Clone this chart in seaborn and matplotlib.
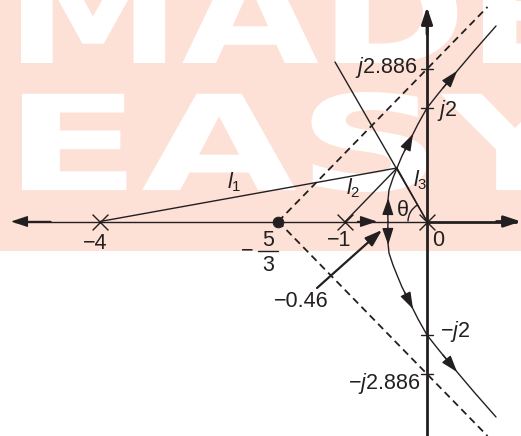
import numpy as np
import matplotlib
matplotlib.use("Agg")
import matplotlib.pyplot as plt
import seaborn as sns
from matplotlib.textpath import TextPath
from matplotlib.patches import PathPatch, Arc
from matplotlib.font_manager import FontProperties
from matplotlib.transforms import Affine2D

# ---------------- data (diagram units: sigma along real axis, j-axis scaled so j2 -> 2) ----
poles = [-4.0, -1.0, 0.0]
pole_labels = ["\u22124", "\u22121", "0"]
centroid = -1.82
breakaway_label = "\u22120.46"
branch_x = [-0.477, -0.483, -0.465, -0.416, -0.367, -0.306, -0.208, -0.110, 0.0, 0.135, 0.306, 0.575, 0.844]
branch_y = [0.0, 0.291, 0.555, 0.767, 0.943, 1.154, 1.436, 1.718, 2.0, 2.247, 2.546, 3.004, 3.445]
arrow_y = [0.414, 1.542, 2.652]
asym_end = (0.74, 3.78)
test_point = (-0.367, 0.943)
l3_ext = (-1.125, 2.81)
tick_vals = [2.0, 2.687, -2.0, -2.696]
tick_labels = ["$j$2", "$j$2.886", "\u2212$j$2", "\u2212$j$2.886"]
line_labels = ["$l_1$", "$l_2$", "$l_3$"]

W, H = 521, 436
PXX, PXY, X0, Y0 = 81.75, 56.75, 427, 221.5
INK = "#231f20"
PINK = "#fde1d6"

sns.set_theme(style="white")
plt.rcParams["font.family"] = ["Liberation Sans", "DejaVu Sans"]
plt.rcParams["mathtext.fontset"] = "custom"
plt.rcParams["mathtext.rm"] = "Liberation Sans"
plt.rcParams["mathtext.it"] = "Liberation Sans:italic"


def to_data(px, py):
    return (px - X0) / PXX, (Y0 - py) / PXY


fig = plt.figure(figsize=(W / 100, H / 100), dpi=100)
ax = fig.add_axes([0, 0, 1, 1])
ax.set_xlim(-X0 / PXX, (W - X0) / PXX)
ax.set_ylim((Y0 - H) / PXY, Y0 / PXY)
ax.axis("off")

# ---------------- watermark band ----------------
ax.axhspan(to_data(0, 251)[1], Y0 / PXY, color=PINK, zorder=0.1, lw=0)


def word(text, x0, x1, top, bot):
    tp = TextPath((0, 0), text, size=100, prop=FontProperties(family="DejaVu Sans", weight="bold"))
    ext = tp.get_extents()
    sx = (x1 - x0) / ext.width
    sy = (bot - top) / ext.height
    tr = (Affine2D().translate(-ext.x0, -ext.y0).scale(sx, sy)
          .translate(x0, H - bot).scale(1 / W, 1 / H) + fig.transFigure)
    ax.add_patch(PathPatch(tp, transform=tr, facecolor="white", edgecolor="none", zorder=0.2))


word("MADE", 21, 575, -37, 63)
word("EASY", 22, 590, 92, 192)

# ---------------- axes ----------------
xl, xr = ax.get_xlim()
yb, yt = ax.get_ylim()
sns.lineplot(x=[to_data(11, 0)[0] + 0.05, 0.0], y=[0, 0], ax=ax, color=INK, lw=1.0, sort=False, estimator=None)
sns.lineplot(x=[0.0, xr - 0.06], y=[0, 0], ax=ax, color=INK, lw=2.0, sort=False, estimator=None)
sns.lineplot(x=[0, 0], y=[yb, 3.7], ax=ax, color=INK, lw=2.0, sort=False, estimator=None)


def arrow(tip, tail, lw=1.0, ms=17):
    ax.annotate("", xy=tip, xytext=tail,
                arrowprops=dict(arrowstyle="-|>,head_length=0.6,head_width=0.2",
                                color=INK, lw=lw, shrinkA=0, shrinkB=0, mutation_scale=ms),
                zorder=5)


arrow((xr, 0), (xr - 0.3, 0), lw=2.0)
arrow((0, to_data(0, 7)[1]), (0, 3.3), lw=2.0)
arrow((to_data(11, 0)[0], 0), (-4.6, 0))
arrow((to_data(377, 0)[0], 0), (-0.85, 0))

# ---------------- asymptotes ----------------
for s in (1, -1):
    sns.lineplot(x=[centroid, asym_end[0]], y=[0, s * asym_end[1]], ax=ax, color=INK, lw=1.3,
                 linestyle=(0, (4.0, 2.6)), sort=False, estimator=None)

# ---------------- root locus branches ----------------
bx = np.array(branch_x)
by = np.array(branch_y)
for s in (1, -1):
    sns.lineplot(x=bx, y=s * by, ax=ax, color=INK, lw=1.0, sort=False, estimator=None)
    for ya in arrow_y:
        tip = (np.interp(ya, by, bx), s * ya)
        tail = (np.interp(ya - 0.3, by, bx), s * (ya - 0.3))
        arrow(tip, tail)

# ---------------- construction lines ----------------
for p in poles:
    sns.lineplot(x=[p, test_point[0]], y=[0, test_point[1]], ax=ax, color=INK, lw=1.0,
                 sort=False, estimator=None)
sns.lineplot(x=[0, l3_ext[0]], y=[0, l3_ext[1]], ax=ax, color=INK, lw=1.0, sort=False, estimator=None)

ang = np.degrees(np.arctan2(test_point[1], test_point[0]))
ax.add_patch(Arc((0, 0), width=2 * 19 / PXX, height=2 * 19 / PXY, theta1=ang, theta2=180,
                 color=INK, lw=1.0, zorder=4))

# ---------------- poles and centroid ----------------
sns.scatterplot(x=poles, y=[0] * len(poles), ax=ax, marker="x", s=130, color=INK,
                linewidth=1.0, zorder=6)
sns.scatterplot(x=[centroid], y=[0], ax=ax, marker="o", s=60, color=INK, edgecolor=INK, zorder=6)

# ---------------- ticks on j-axis ----------------
for v in tick_vals:
    sns.lineplot(x=[-0.075, 0.075], y=[v, v], ax=ax, color=INK, lw=1.0, sort=False, estimator=None)

# ---------------- labels ----------------
fs = 15.5
kw = dict(color=INK, fontsize=fs, zorder=7)
for lab, (px, py) in zip(pole_labels, [(95, 243), (339, 240), (438, 240)]):
    ax.text(*to_data(px, py), lab, ha="center", va="center", **kw)
# fraction -5/3
ax.text(*to_data(247, 251), "\u2212", ha="center", va="center", **kw)
ax.text(*to_data(268, 240), "5", ha="center", va="center", **kw)
ax.text(*to_data(268, 265), "3", ha="center", va="center", **kw)
fx0, fy = to_data(258, 251)
fx1, _ = to_data(278, 251)
ax.plot([fx0, fx1], [fy, fy], color=INK, lw=1.0, zorder=7)

ax.text(*to_data(417, 67), tick_labels[1], ha="right", va="center", **kw)
ax.text(*to_data(437, 110), tick_labels[0], ha="left", va="center", **kw)
ax.text(*to_data(440, 331), tick_labels[2], ha="left", va="center", **kw)
ax.text(*to_data(420, 383), tick_labels[3], ha="right", va="center", **kw)
ax.text(*to_data(301, 301), breakaway_label, ha="center", va="center", **kw)
for lab, (px, py) in zip(line_labels, [(234, 182), (353, 188), (420, 180)]):
    ax.text(*to_data(px, py), lab, ha="center", va="center", **kw)
ax.text(*to_data(403, 210), "\u03b8", ha="center", va="center", **kw)

# -0.46 pointer
arrow(to_data(382, 230), to_data(317, 288), lw=1.6, ms=17)

fig.savefig("out.png", dpi=100)
